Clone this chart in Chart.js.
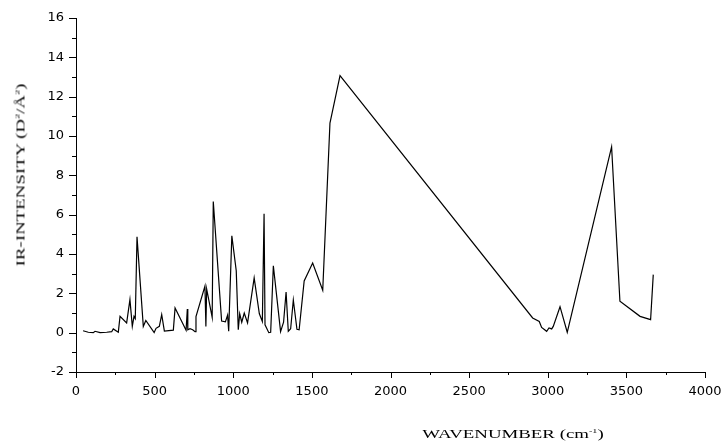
<!DOCTYPE html>
<html>
<head>
<meta charset="utf-8">
<script src="https://cdn.jsdelivr.net/npm/chart.js@4"></script>
<style>
  html, body { margin: 0; padding: 0; background: #fff; }
  #wrap { position: relative; width: 723px; height: 443px; }
  .title {
    position: absolute;
    font-family: "Liberation Serif", "Times New Roman", serif;
    font-size: 13px;
    color: #000;
    white-space: nowrap;
    line-height: 1;
  }
  .title sup { font-size: 7px; vertical-align: 5px; }
  #xTitle { left: 513px; top: 433px; transform: translate(-50%, -50%) scaleX(1.45); }
  #yTitle { left: 20px; top: 175px; transform: translate(-50%, -50%) rotate(-90deg) scaleX(1.45); }
</style>
</head>
<body>
<div id="wrap">
  <canvas id="grafik" width="723" height="443"></canvas>
  <div class="title" id="xTitle">WAVENUMBER (cm<sup>-1</sup>)</div>
  <div class="title" id="yTitle">IR-INTENSITY (D<sup>2</sup>/Å<sup>2</sup>)</div>
</div>
<script>
// data
const wavenumber = [
  45, 78, 110, 121, 153, 195, 227, 237, 269, 280, 322, 343, 358, 369, 377, 388,
  428, 444, 497, 509, 530, 545, 562, 619, 630, 700, 708, 711, 725, 742, 757, 763,
  820, 826, 831, 866, 873, 926, 950, 964, 971, 991, 1019, 1032, 1041, 1054, 1070,
  1091, 1133, 1166, 1185, 1196, 1202, 1226, 1238, 1255, 1301, 1320, 1336, 1350,
  1365, 1382, 1405, 1419, 1451, 1505, 1569, 1615, 1679, 2904, 2946, 2961, 2993,
  3008, 3025, 3035, 3078, 3124, 3406, 3459, 3587, 3654, 3671
];
const intensity = [
  0.1, 0.02, 0, 0.07, 0, 0.02, 0.05, 0.19, 0.02, 0.83, 0.49, 1.68, 0.32, 0.83, 0.72, 4.88,
  0.32, 0.62, 0.01, 0.22, 0.32, 0.92, 0.08, 0.13, 1.25, 0.12, 1.2, 0.15, 0.2, 0.15, 0.05, 0.82,
  2.37, 0.32, 2.22, 0.78, 6.67, 0.59, 0.55, 0.89, 0.07, 4.93, 3.15, 0.15, 0.96, 0.53, 1.0,
  0.5, 2.78, 0.96, 0.57, 6.05, 0.4, 0, 0.02, 3.4, 0.05, 0.53, 2.06, 0.07,
  0.2, 1.66, 0.17, 0.15, 2.63, 3.54, 2.16, 10.66, 13.07, 0.75, 0.57, 0.27, 0.07,
  0.24, 0.19, 0.32, 1.32, 0.02, 9.45, 1.6, 0.83, 0.66, 2.95
];
const xMajorTicks = [0, 500, 1000, 1500, 2000, 2500, 3000, 3500, 4000];
const yMajorTicks = [-2, 0, 2, 4, 6, 8, 10, 12, 14, 16];

const points = wavenumber.map((w, i) => ({ x: w, y: intensity[i] }));

// tick marks outside the axes, major + minor
const tickMarks = {
  id: 'tickMarks',
  afterDraw(chart) {
    const ctx = chart.ctx;
    const xs = chart.scales.x, ys = chart.scales.y;
    const area = chart.chartArea;
    ctx.save();
    ctx.strokeStyle = '#000';
    ctx.lineWidth = 1;
    ctx.beginPath();
    for (let v = xMajorTicks[0]; v <= xMajorTicks[xMajorTicks.length - 1]; v += 250) {
      const px = Math.round(xs.getPixelForValue(v)) + 0.5;
      const len = (v % 500 === 0) ? 6 : 3;
      ctx.moveTo(px, area.bottom);
      ctx.lineTo(px, area.bottom + len);
    }
    for (let v = yMajorTicks[0]; v <= yMajorTicks[yMajorTicks.length - 1]; v += 1) {
      const py = Math.round(ys.getPixelForValue(v)) + 0.5;
      const len = (v % 2 === 0) ? 7 : 4;
      ctx.moveTo(area.left, py);
      ctx.lineTo(area.left - len, py);
    }
    ctx.stroke();
    ctx.restore();
  }
};

const tickFont = { family: 'DejaVu Sans', size: 13 };

new Chart(document.getElementById('grafik').getContext('2d'), {
  type: 'line',
  data: {
    datasets: [{
      data: points,
      borderColor: '#000',
      borderWidth: 1.2,
      pointRadius: 0,
      fill: false,
      tension: 0
    }]
  },
  options: {
    responsive: false,
    animation: false,
    layout: { padding: { top: 18, right: 18, left: 0, bottom: 0 } },
    plugins: { legend: { display: false }, tooltip: { enabled: false } },
    scales: {
      x: {
        type: 'linear',
        min: 0,
        max: 4000,
        afterBuildTicks(s) { s.ticks = xMajorTicks.map(v => ({ value: v })); },
        ticks: { font: tickFont, color: '#000', padding: 0, maxRotation: 0, callback: v => String(v) },
        // grid hidden; tickLength only used as label offset, marks drawn by the plugin
        grid: { display: false, drawTicks: true, tickLength: 12 },
        border: { display: true, color: '#000', width: 1 },
        afterFit(s) { s.height = 71; }
      },
      y: {
        min: -2,
        max: 16,
        afterBuildTicks(s) { s.ticks = yMajorTicks.map(v => ({ value: v })); },
        ticks: { font: tickFont, color: '#000', padding: 0, callback: v => String(v) },
        grid: { display: false, drawTicks: true, tickLength: 12 },
        border: { display: true, color: '#000', width: 1 },
        afterFit(s) { s.width = 76; }
      }
    }
  },
  plugins: [tickMarks]
});
</script>
</body>
</html>
